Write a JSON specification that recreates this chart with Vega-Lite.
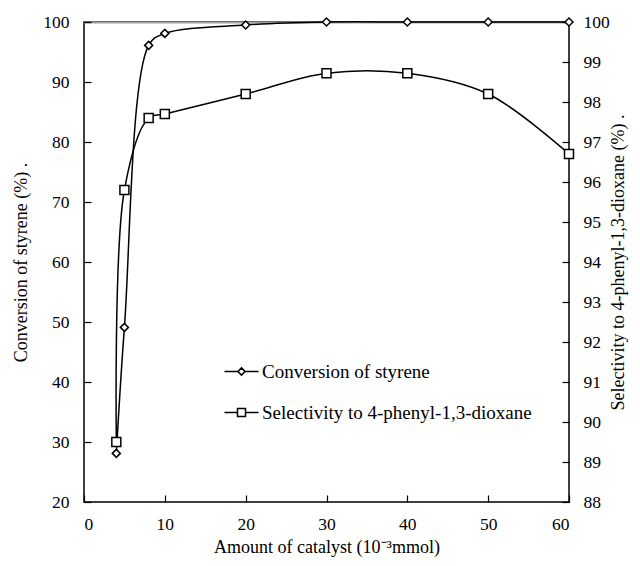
{
  "$schema": "https://vega.github.io/schema/vega-lite/v6.json",
  "width": 485,
  "height": 480,
  "autosize": "none",
  "padding": {"left": 84, "top": 22, "right": 71, "bottom": 64},
  "background": "white",
  "config": {
    "font": "Liberation Serif",
    "view": {"stroke": "black", "strokeWidth": 1.5},
    "axis": {
      "grid": false,
      "domain": false,
      "ticks": true,
      "tickSize": 7,
      "offset": -7,
      "tickColor": "#000000",
      "tickOpacity": 1,
      "tickWidth": 1.2,
      "labelFont": "Liberation Serif",
      "labelFontSize": 17.5,
      "labelColor": "black",
      "titleFont": "Liberation Serif",
      "titleFontSize": 18,
      "titleFontWeight": "normal",
      "titleColor": "black"
    },
    "legend": {
      "labelFont": "Liberation Serif",
      "labelFontSize": 19,
      "labelColor": "black",
      "labelLimit": 0
    }
  },
  "data": {
    "values": [
      {"amount": 4, "series": "Conversion of styrene", "value": 28.1},
      {"amount": 5, "series": "Conversion of styrene", "value": 49.1},
      {"amount": 8, "series": "Conversion of styrene", "value": 96.1},
      {"amount": 10, "series": "Conversion of styrene", "value": 98.1},
      {"amount": 20, "series": "Conversion of styrene", "value": 99.5},
      {"amount": 30, "series": "Conversion of styrene", "value": 100},
      {"amount": 40, "series": "Conversion of styrene", "value": 100},
      {"amount": 50, "series": "Conversion of styrene", "value": 100},
      {"amount": 60, "series": "Conversion of styrene", "value": 100},
      {"amount": 4, "series": "Selectivity to 4-phenyl-1,3-dioxane", "value": 89.5},
      {"amount": 5, "series": "Selectivity to 4-phenyl-1,3-dioxane", "value": 95.8},
      {"amount": 8, "series": "Selectivity to 4-phenyl-1,3-dioxane", "value": 97.6},
      {"amount": 10, "series": "Selectivity to 4-phenyl-1,3-dioxane", "value": 97.7},
      {"amount": 20, "series": "Selectivity to 4-phenyl-1,3-dioxane", "value": 98.2},
      {"amount": 30, "series": "Selectivity to 4-phenyl-1,3-dioxane", "value": 98.72},
      {"amount": 40, "series": "Selectivity to 4-phenyl-1,3-dioxane", "value": 98.72},
      {"amount": 50, "series": "Selectivity to 4-phenyl-1,3-dioxane", "value": 98.2},
      {"amount": 60, "series": "Selectivity to 4-phenyl-1,3-dioxane", "value": 96.7}
    ]
  },
  "layer": [
    {
      "transform": [{"filter": "datum.series === 'Conversion of styrene'"}],
      "encoding": {
        "x": {
          "field": "amount",
          "type": "quantitative",
          "scale": {"domain": [0, 60], "nice": false, "zero": false},
          "axis": {
            "orient": "bottom",
            "values": [0, 10, 20, 30, 40, 50, 60],
            "title": "Amount of catalyst (10⁻³mmol)",
            "labelPadding": 13,
            "titlePadding": 6
          }
        },
        "y": {
          "field": "value",
          "type": "quantitative",
          "scale": {"domain": [20, 100], "nice": false, "zero": false},
          "axis": {
            "orient": "left",
            "values": [20, 30, 40, 50, 60, 70, 80, 90, 100],
            "title": "Conversion of styrene (%)   .",
            "labelPadding": 15,
            "titlePadding": 12
          }
        }
      },
      "layer": [
        {
          "mark": {"type": "line", "interpolate": "catmull-rom", "strokeWidth": 1.5},
          "encoding": {
            "stroke": {
              "field": "series",
              "type": "nominal",
              "scale": {"domain": ["Conversion of styrene"], "range": ["black"]},
              "legend": {
                "title": null,
                "orient": "none",
                "legendX": 148,
                "legendY": 340,
                "padding": 0,
                "symbolSize": 64,
                "symbolStrokeWidth": 1.5,
                "symbolFillColor": "white",
                "labelOffset": 11,
                "symbolType": "M-4.25,0H-0.9M0.9,0H4.25M0,-0.9L0.9,0L0,0.9L-0.9,0Z"
              }
            }
          }
        },
        {
          "mark": {"type": "point", "shape": "diamond", "filled": true, "fill": "white", "stroke": "black", "strokeWidth": 1.5, "size": 64, "opacity": 1}
        }
      ]
    },
    {
      "transform": [{"filter": "datum.series === 'Selectivity to 4-phenyl-1,3-dioxane'"}],
      "encoding": {
        "x": {
          "field": "amount",
          "type": "quantitative",
          "scale": {"domain": [0, 60], "nice": false, "zero": false},
          "axis": {
            "orient": "top",
            "offset": 0,
            "domain": true,
            "domainColor": "#a0a0a0",
            "domainWidth": 2,
            "ticks": false,
            "labels": false,
            "title": null
          }
        },
        "y": {
          "field": "value",
          "type": "quantitative",
          "scale": {"domain": [88, 100], "nice": false, "zero": false},
          "axis": {
            "orient": "right",
            "values": [88, 89, 90, 91, 92, 93, 94, 95, 96, 97, 98, 99, 100],
            "title": "Selectivity to 4-phenyl-1,3-dioxane (%)   .",
            "titleAngle": 270,
            "labelPadding": 14,
            "titlePadding": 18
          }
        }
      },
      "layer": [
        {
          "mark": {"type": "line", "interpolate": "catmull-rom", "strokeWidth": 1.5},
          "encoding": {
            "color": {
              "field": "series",
              "type": "nominal",
              "scale": {"domain": ["Selectivity to 4-phenyl-1,3-dioxane"], "range": ["black"]},
              "legend": {
                "title": null,
                "orient": "none",
                "legendX": 148,
                "legendY": 381,
                "padding": 0,
                "symbolSize": 64,
                "symbolStrokeWidth": 1.5,
                "symbolFillColor": "white",
                "labelOffset": 11,
                "symbolType": "M-4.25,0H-1M1,0H4.25M-1,-1H1V1H-1Z"
              }
            }
          }
        },
        {
          "mark": {"type": "point", "shape": "square", "filled": true, "fill": "white", "stroke": "black", "strokeWidth": 1.5, "size": 81, "opacity": 1}
        }
      ]
    }
  ],
  "resolve": {"scale": {"y": "independent"}, "axis": {"x": "independent"}}
}
